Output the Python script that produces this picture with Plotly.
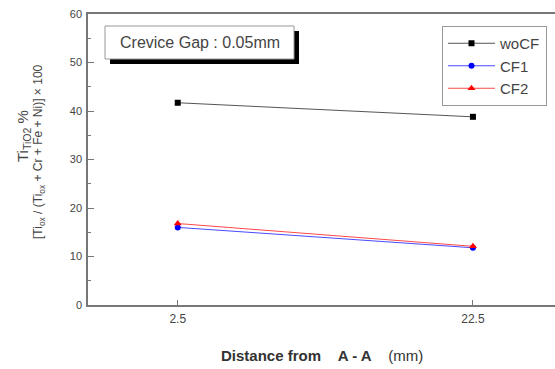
import plotly.graph_objects as go

# Measured titanium-oxide fraction at two positions from A-A
distance_mm = [2.5, 22.5]
wocf = [41.7, 38.8]
cf1 = [16.0, 11.8]
cf2 = [16.8, 12.1]

x_ticks = [2.5, 22.5]
x_tick_labels = ["2.5", "22.5"]
y_ticks = [0, 10, 20, 30, 40, 50, 60]

W, H = 555, 369
L, R, T, B = 88, 0, 14, 64
PW, PH = W - L - R, H - T - B


def px(x):
    return (x - L) / PW


def py(y):
    return (H - B - y) / PH


FONT = "Liberation Sans, Arial, sans-serif"

fig = go.Figure()
fig.add_trace(go.Scatter(
    x=distance_mm, y=wocf, name="woCF", mode="lines+markers",
    line=dict(color="#555555", width=1),
    marker=dict(symbol="square", size=6, color="black"),
))
fig.add_trace(go.Scatter(
    x=distance_mm, y=cf1, name="CF1", mode="lines+markers",
    line=dict(color="#4a4aff", width=1),
    marker=dict(symbol="circle", size=6, color="blue"),
))
fig.add_trace(go.Scatter(
    x=distance_mm, y=cf2, name="CF2", mode="lines+markers",
    line=dict(color="#ff4a4a", width=1),
    marker=dict(symbol="triangle-up", size=7, color="red"),
))

axis_line = "#777777"
fig.update_layout(
    width=W, height=H,
    margin=dict(l=L, r=R, t=T, b=B, pad=0),
    paper_bgcolor="white", plot_bgcolor="white",
    font=dict(family=FONT, color="#333333"),
    showlegend=True,
    legend=dict(
        x=px(442), y=py(26), xanchor="left", yanchor="top",
        bgcolor="white", bordercolor="#999999", borderwidth=1,
        font=dict(size=15, color="#444444"),
        itemwidth=47,
        tracegroupgap=0,
    ),
    xaxis=dict(
        range=[-3.58, 28.06], tickvals=x_ticks, ticktext=x_tick_labels,
        ticks="inside", ticklen=5, tickcolor=axis_line,
        showline=True, linecolor=axis_line, linewidth=1.5, mirror=True,
        showgrid=False, zeroline=False,
        tickfont=dict(size=12, color="#444444"),
        ticklabelstandoff=2,
    ),
    yaxis=dict(
        range=[0, 60], tickvals=y_ticks,
        ticks="inside", ticklen=6, tickcolor=axis_line,
        minor=dict(dtick=5, ticks="inside", ticklen=3, tickcolor=axis_line),
        showline=True, linecolor=axis_line, linewidth=1.5, mirror=False,
        showgrid=False, zeroline=False,
        tickfont=dict(size=11, color="#444444"),
        ticklabelstandoff=2,
    ),
)

# Boxed note with drop shadow
box = (105, 26, 294, 59)
fig.add_shape(type="rect", xref="paper", yref="paper",
              x0=px(box[0] + 5), x1=px(box[2] + 5), y0=py(box[1] + 5), y1=py(box[3] + 5),
              fillcolor="black", line=dict(width=0), layer="above")
fig.add_shape(type="rect", xref="paper", yref="paper",
              x0=px(box[0]), x1=px(box[2]), y0=py(box[1]), y1=py(box[3]),
              fillcolor="white", line=dict(color="#999999", width=1), layer="above")
fig.add_annotation(text="Crevice Gap : 0.05mm", xref="paper", yref="paper",
                   x=px((box[0] + box[2]) / 2), y=py((box[1] + box[3]) / 2),
                   xanchor="center", yanchor="middle",
                   showarrow=False, font=dict(size=16, color="#444444"))

# Y-axis title in two lines
fig.add_annotation(text="Ti<sub>TiO2</sub> %", xref="paper", yref="paper",
                   x=px(23), y=py(136), xanchor="center", yanchor="middle",
                   textangle=-90, showarrow=False,
                   font=dict(size=15, color="#444444"))
fig.add_annotation(text="[Ti<sub>ox</sub> / (Ti<sub>ox</sub> + Cr + Fe + Ni)] × 100",
                   xref="paper", yref="paper",
                   x=px(39), y=py(152), xanchor="center", yanchor="middle",
                   textangle=-90, showarrow=False,
                   font=dict(size=12, color="#444444"))

# X-axis title
fig.add_annotation(text="<b>Distance from</b>&nbsp;&nbsp;&nbsp;&nbsp;<b>A - A</b>&nbsp;&nbsp;&nbsp;&nbsp;(mm)",
                   xref="paper", yref="paper", x=px(322), y=py(355),
                   xanchor="center", yanchor="middle",
                   showarrow=False, font=dict(size=15, color="#333333"))

fig.write_html("out.html")
